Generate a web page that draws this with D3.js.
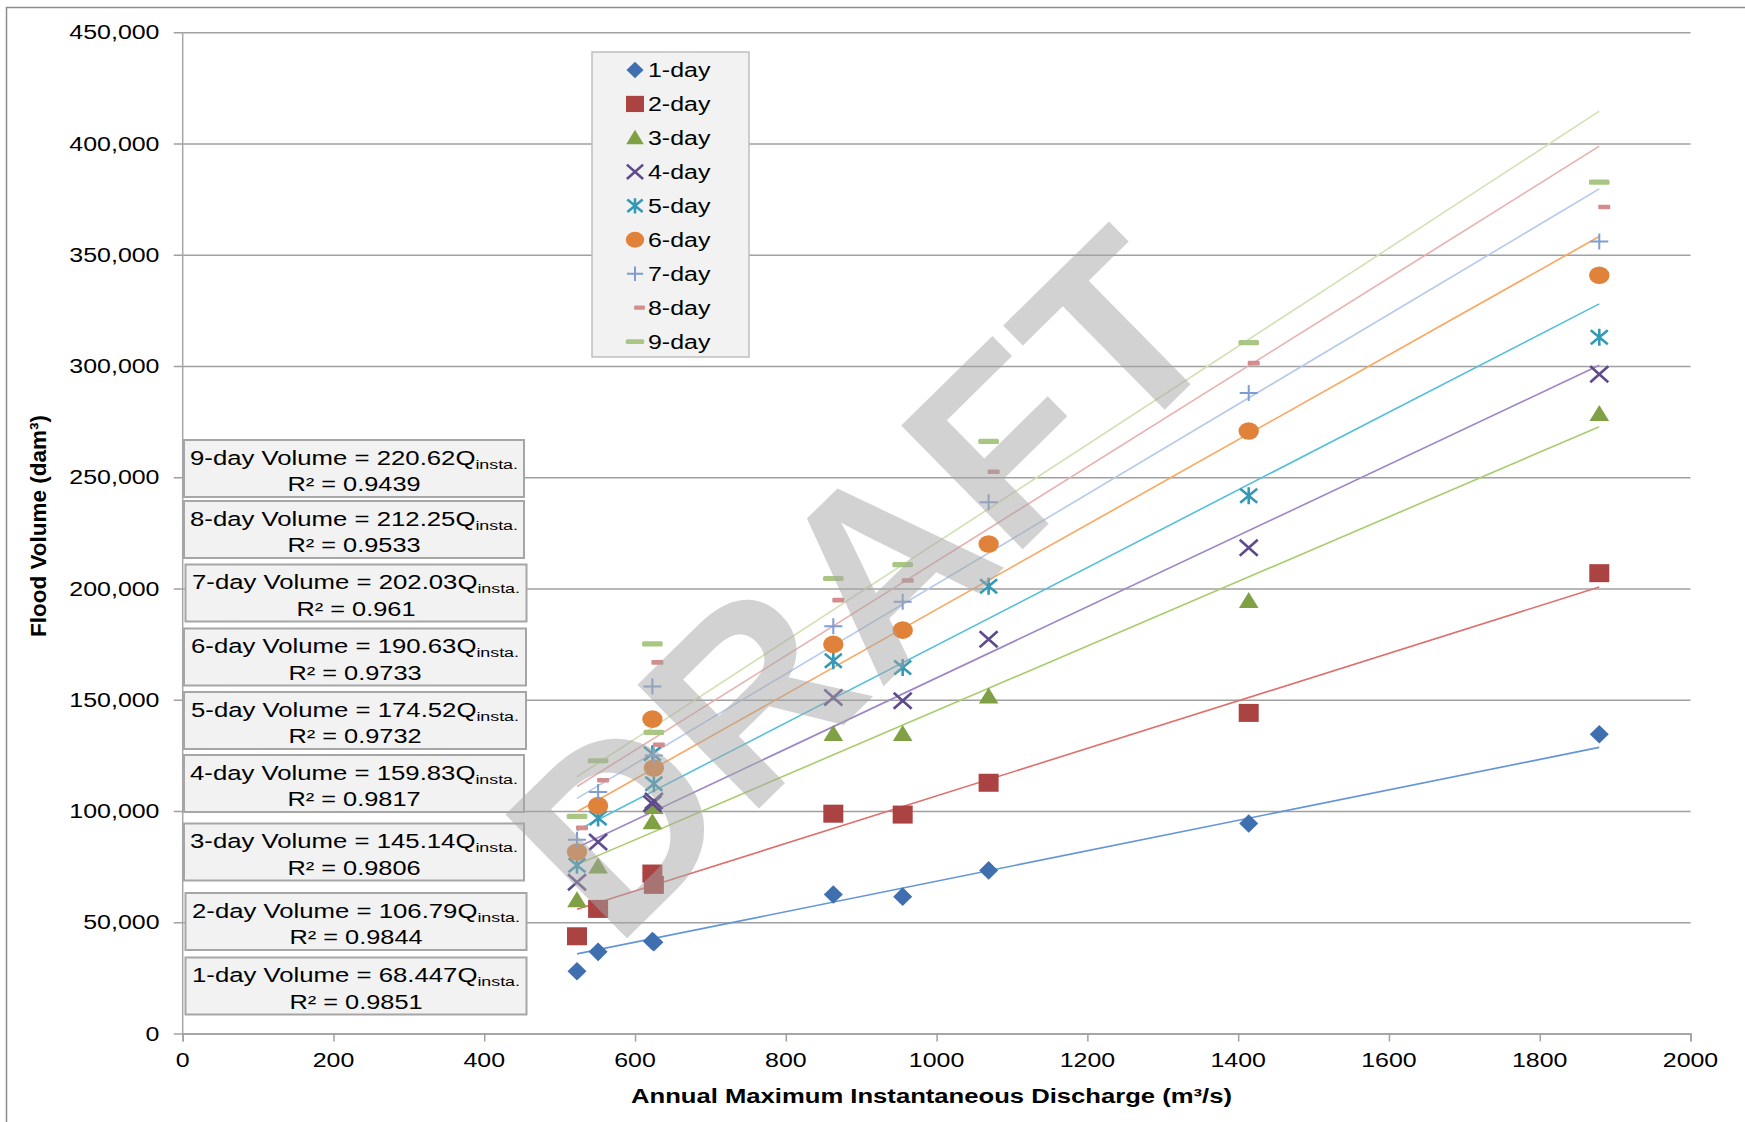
<!DOCTYPE html>
<html><head><meta charset="utf-8">
<script src="https://cdn.jsdelivr.net/npm/d3@7"></script>
<style>
html,body{margin:0;padding:0;background:#fff;}
svg{display:block;font-family:"Liberation Sans",Arial,sans-serif;}
</style></head><body>
<svg id="chart" width="1745" height="1122"></svg>
<script>
// ---------------- data ----------------
const discharge = [523, 551, 623, 625, 863, 955, 1069, 1414, 1879];
const seriesNames = ["1-day","2-day","3-day","4-day","5-day","6-day","7-day","8-day","9-day"];
const vol1 = [28000, 36700, 41500, 41000, 62500, 61500, 73300, 94400, 134500];
const vol2 = [43700, 56000, 71900, 66800, 98800, 98400, 112700, 144100, 206900];
const vol3 = [59900, 75100, 94900, 101800, 134600, 134600, 151500, 194400, 278400];
const vol4 = [68000, 86100, 103300, 104500, 151000, 149600, 177200, 218300, 296300];
const vol5 = [75600, 96900, 125700, 112300, 167500, 164500, 201000, 241700, 312900];
const vol6 = [81600, 102400, 141300, 119300, 174900, 181300, 220000, 270800, 340800];
const vol7 = [87100, 108500, 156000, 125000, 183000, 194000, 238800, 287900, 356000];
const vol8 = [92400, 113800, 166800, 129800, 194800, 203600, 252500, 301300, 371500];
const vol9 = [97600, 122600, 175100, 135300, 204500, 210700, 266100, 310500, 382700];
const slopes = [68.447, 106.79, 145.14, 159.83, 174.52, 190.63, 202.03, 212.25, 220.62];
const r2Labels = ["0.9851","0.9844","0.9806","0.9817","0.9732","0.9733","0.961","0.9533","0.9439"];
const xTicks = [0,200,400,600,800,1000,1200,1400,1600,1800,2000];
const yTicks = [0,50000,100000,150000,200000,250000,300000,350000,400000,450000];
const xTitle = "Annual Maximum Instantaneous Discharge (m³/s)";
const yTitle = "Flood Volume (dam³)";
const watermark = "DRAFT";

const volumes = [vol1,vol2,vol3,vol4,vol5,vol6,vol7,vol8,vol9];

// ---------------- styles ----------------
const markerColors = ["#3F6FAE","#AA4341","#7FA043","#5F4A8B","#3399B5","#E0823A","#7E9DD3","#D28D8C","#A9C684"];
const lineColors   = ["#6495D6","#DE6F6C","#AACB6C","#9E86C6","#55BFDB","#FBA65E","#B5C9EA","#E8AFAD","#D2E1B5"];
const SX = 1.28;      // horizontal stretch of the source image text
const FS = 19.5;

const svg = d3.select("#chart");
const margin = {left:182.7, right:1745-1690.5, top:32.3, bottom:1122-1033.5};
const W = 1745, H = 1122;
const x = d3.scaleLinear().domain([0,2000]).range([margin.left, W - margin.right]);
const y = d3.scaleLinear().domain([0,450000]).range([H - margin.bottom, margin.top]);

// outer border
svg.append("rect").attr("x",6.5).attr("y",7.5).attr("width",1800).attr("height",1200)
  .attr("fill","none").attr("stroke","#8C8C8C").attr("stroke-width",1.5);

// gridlines + y ticks
const yAxis = d3.axisLeft(y).tickValues(yTicks).tickSize(-(x(2000)-x(0))).tickFormat("");
const gy = svg.append("g").attr("transform",`translate(${x(0)},0)`).call(yAxis);
gy.select(".domain").remove();
gy.selectAll(".tick line").attr("stroke","#A0A0A0").attr("stroke-width",1.5)
  .attr("x1",-9);
// y axis line
svg.append("line").attr("x1",x(0)).attr("x2",x(0)).attr("y1",y(450000)).attr("y2",y(0))
  .attr("stroke","#A6A6A6").attr("stroke-width",1.5);
// x axis
const xAxis = d3.axisBottom(x).tickValues(xTicks).tickSize(8).tickFormat("");
const gx = svg.append("g").attr("transform",`translate(0,${y(0)})`).call(xAxis);
gx.select(".domain").attr("stroke","#A0A0A0").attr("stroke-width",1.5);
gx.selectAll(".tick line").attr("stroke","#A0A0A0").attr("stroke-width",1.5);

function stretchedText(g, tx, ty, str, opts={}) {
  const t = g.append("text")
    .attr("transform",`translate(${tx},${ty}) scale(${opts.sx||SX},1)`)
    .attr("font-size", opts.fs||FS)
    .attr("fill", "#000")
    .attr("text-anchor", opts.anchor||"start")
    .attr("font-weight", opts.bold?"bold":"normal")
    .text(str);
  return t;
}
const fmt = d3.format(",");
yTicks.forEach(v => stretchedText(svg, 159.5, y(v)+7, fmt(v), {anchor:"end"}));
xTicks.forEach(v => stretchedText(svg, x(v), 1066.5, String(v), {anchor:"middle"}));

// axis titles
stretchedText(svg, 931.5, 1103, xTitle, {anchor:"middle", bold:true, sx:1.315});
svg.append("text").attr("transform","translate(46,526) rotate(-90)")
  .attr("text-anchor","middle").attr("font-size",22.5).attr("font-weight","bold").text(yTitle);

// ---------------- trend lines ----------------
const xMin = d3.min(discharge), xMax = d3.max(discharge);
const gLines = svg.append("g");
slopes.forEach((a,i) => {
  gLines.append("line")
    .attr("x1",x(xMin)).attr("y1",y(a*xMin))
    .attr("x2",x(xMax)).attr("y2",y(a*xMax))
    .attr("stroke",lineColors[i]).attr("stroke-width",1.6);
});

// ---------------- markers ----------------
function drawMarker(g, i, cx, cy, k=1) {
  const c = markerColors[i];
  switch(i) {
    case 0: g.append("path").attr("d",`M${cx},${cy-9.3*k}L${cx+9.5*k},${cy}L${cx},${cy+9.3*k}L${cx-9.5*k},${cy}Z`).attr("fill",c); break;
    case 1: g.append("rect").attr("x",cx-10*k).attr("y",cy-9*k).attr("width",20*k).attr("height",18*k).attr("fill",c); break;
    case 2: g.append("path").attr("d",`M${cx},${cy-9*k}L${cx+9.8*k},${cy+7*k}L${cx-9.8*k},${cy+7*k}Z`).attr("fill",c); break;
    case 3: g.append("path").attr("d",`M${cx-9*k},${cy-8*k}L${cx+9*k},${cy+8*k}M${cx+9*k},${cy-8*k}L${cx-9*k},${cy+8*k}`)
              .attr("stroke",c).attr("stroke-width",2.6).attr("fill","none"); break;
    case 4: g.append("path").attr("d",`M${cx-8.5*k},${cy-7*k}L${cx+8.5*k},${cy+7*k}M${cx+8.5*k},${cy-7*k}L${cx-8.5*k},${cy+7*k}M${cx},${cy-8.5*k}L${cx},${cy+8.5*k}`)
              .attr("stroke",c).attr("stroke-width",2.6).attr("fill","none"); break;
    case 5: g.append("ellipse").attr("cx",cx).attr("cy",cy).attr("rx",10.2*k).attr("ry",8.8*k).attr("fill",c); break;
    case 6: g.append("path").attr("d",`M${cx-9*k},${cy}L${cx+9*k},${cy}M${cx},${cy-8*k}L${cx},${cy+8*k}`)
              .attr("stroke",c).attr("stroke-width",2).attr("fill","none"); break;
    case 7: g.append("rect").attr("x",cx-1*k).attr("y",cy-2.3*k).attr("width",12*k).attr("height",4.6*k).attr("rx",1).attr("fill",c); break;
    case 8: g.append("rect").attr("x",cx-10.3*k).attr("y",cy-2.6*k).attr("width",20.6*k).attr("height",5.2*k).attr("rx",1.5).attr("fill",c); break;
  }
}
const gMarks = svg.append("g");
volumes.forEach((vals,i) => {
  vals.forEach((v,j) => drawMarker(gMarks, i, x(discharge[j]), y(v)));
});

// ---------------- legend ----------------
const lg = svg.append("g");
lg.append("rect").attr("x",592).attr("y",52).attr("width",157).attr("height",305)
  .attr("fill","#F2F2F2").attr("stroke","#BFBFBF").attr("stroke-width",1.5);
seriesNames.forEach((s,i) => {
  const cy = 70 + i*33.95;
  drawMarker(lg, i, 635, cy, 0.9);
  stretchedText(lg, 648, cy+7, s);
});

// ---------------- equation boxes ----------------
const eqBoxes = [ // layout of each label box: [left, top, width]
  [185.5,957.5,341],[185.5,893,341],[184,823.5,340],[184,755,340],[184,692,342],
  [184,628.5,342],[185.5,564.5,341],[184,501,340],[184,440,340]];
const eg = svg.append("g");
eqBoxes.forEach((b,i) => {
  const [bx,by,bw] = b, bh = 57;
  eg.append("rect").attr("x",bx).attr("y",by).attr("width",bw).attr("height",bh)
    .attr("fill","#F2F2F2").attr("stroke","#A6A6A6").attr("stroke-width",2);
  const cx = bx + bw/2;
  const t1 = eg.append("text").attr("transform",`translate(${cx},${by+24.5}) scale(1.32,1)`)
    .attr("text-anchor","middle").attr("font-size",FS);
  t1.append("tspan").text(`${seriesNames[i]} Volume  = ${slopes[i]}Q`);
  t1.append("tspan").attr("font-size",13.5).attr("dy",4).text("insta.");
  stretchedText(eg, cx, by+51, `R² = ${r2Labels[i]}`, {anchor:"middle", sx:1.3});
});

// ---------------- watermark ----------------
svg.append("text").attr("transform","translate(615,950) rotate(-44.5)")
  .attr("text-anchor","start")
  .attr("font-size",252).attr("font-weight","bold").attr("letter-spacing",3)
  .attr("fill","#A6A6A6").attr("fill-opacity",0.5)
  .text(watermark);
</script>
</body></html>
